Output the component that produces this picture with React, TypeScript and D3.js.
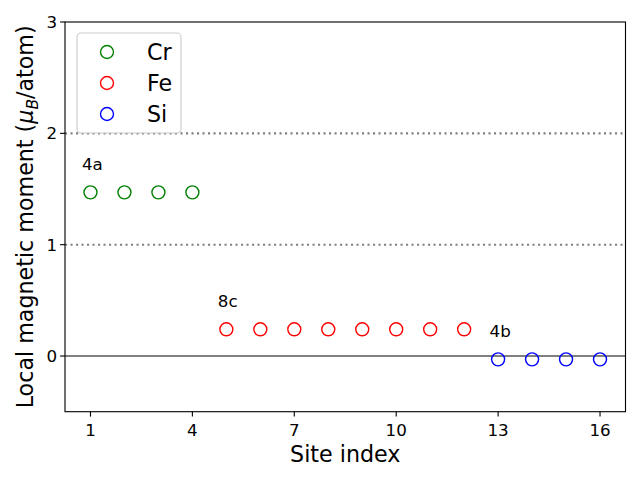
import React from "react";
import * as d3 from "d3";

const crSites = [1, 2, 3, 4];
const crValues = [1.47, 1.47, 1.47, 1.47];
const feSites = [5, 6, 7, 8, 9, 10, 11, 12];
const feValues = [0.24, 0.24, 0.24, 0.24, 0.24, 0.24, 0.24, 0.24];
const siSites = [13, 14, 15, 16];
const siValues = [-0.03, -0.03, -0.03, -0.03];
const seriesNames = ["Cr", "Fe", "Si"];
const seriesColors = ["green", "red", "blue"];
const wyckoffLabels = ["4a", "8c", "4b"];
const xTicks = [1, 4, 7, 10, 13, 16];
const yTicks = [0, 1, 2, 3];
const refLines = [1, 2];

const W = 640, H = 480;
const L = 65, R = 625.5, T = 22, B = 411.7;
const font = "DejaVu Sans, sans-serif";

export default function App() {
  const x = d3.scaleLinear().domain([0.25, 16.75]).range([L, R]);
  const y = d3.scaleLinear().domain([-0.5, 3]).range([B, T]);
  const series = [
    { sites: crSites, values: crValues },
    { sites: feSites, values: feValues },
    { sites: siSites, values: siValues },
  ];
  return (
    <svg width={W} height={H} style={{ position: "absolute", left: 0, top: 0 }} fontFamily={font}>
      <rect x={0} y={0} width={W} height={H} fill="white" />
      {refLines.map((v) => (
        <line key={v} x1={L} x2={R} y1={y(v)} y2={y(v)} stroke="gray" strokeWidth={2.08} strokeDasharray="2.1,3.4" />
      ))}
      <line x1={L} x2={R} y1={y(0)} y2={y(0)} stroke="gray" strokeWidth={2.08} />
      {series.map((s, i) =>
        s.sites.map((site, j) => (
          <circle key={`${i}-${j}`} cx={x(site)} cy={y(s.values[j])} r={6.5} fill="none" stroke={seriesColors[i]} strokeWidth={1.39} />
        ))
      )}
      {series.map((s, i) => (
        <text key={`l${i}`} x={x(s.sites[0] - 0.25)} y={y(s.values[0] + 0.2)} fontSize={16.7} fill="black">
          {wyckoffLabels[i]}
        </text>
      ))}
      <rect x={L} y={T} width={R - L} height={B - T} fill="none" stroke="black" strokeWidth={1.11} />
      {xTicks.map((t) => (
        <g key={`x${t}`}>
          <line x1={x(t)} x2={x(t)} y1={B} y2={B + 4.9} stroke="black" strokeWidth={1.11} />
          <text x={x(t)} y={B + 24} textAnchor="middle" fontSize={16.7}>{t}</text>
        </g>
      ))}
      {yTicks.map((t) => (
        <g key={`y${t}`}>
          <line x1={L - 4.9} x2={L} y1={y(t)} y2={y(t)} stroke="black" strokeWidth={1.11} />
          <text x={L - 8} y={y(t) + 6} textAnchor="end" fontSize={16.7}>{t}</text>
        </g>
      ))}
      <text x={(L + R) / 2} y={462} textAnchor="middle" fontSize={22.2}>Site index</text>
      <text transform={`translate(33, ${(T + B) / 2}) rotate(-90)`} textAnchor="middle" fontSize={22.2}>
        Local magnetic moment (
        <tspan fontStyle="italic">μ</tspan>
        <tspan fontStyle="italic" fontSize={15.5} dy={5}>B</tspan>
        <tspan dy={-5}>/atom)</tspan>
      </text>
      <g>
        <rect x={77} y={33} width={104} height={100} rx={4} fill="white" fillOpacity={0.8} stroke="#cccccc" strokeWidth={1.11} />
        {seriesNames.map((n, i) => (
          <g key={n}>
            <circle cx={107} cy={52 + i * 31} r={6.5} fill="none" stroke={seriesColors[i]} strokeWidth={1.39} />
            <text x={147} y={59.5 + i * 31} fontSize={22.2}>{n}</text>
          </g>
        ))}
      </g>
    </svg>
  );
}
